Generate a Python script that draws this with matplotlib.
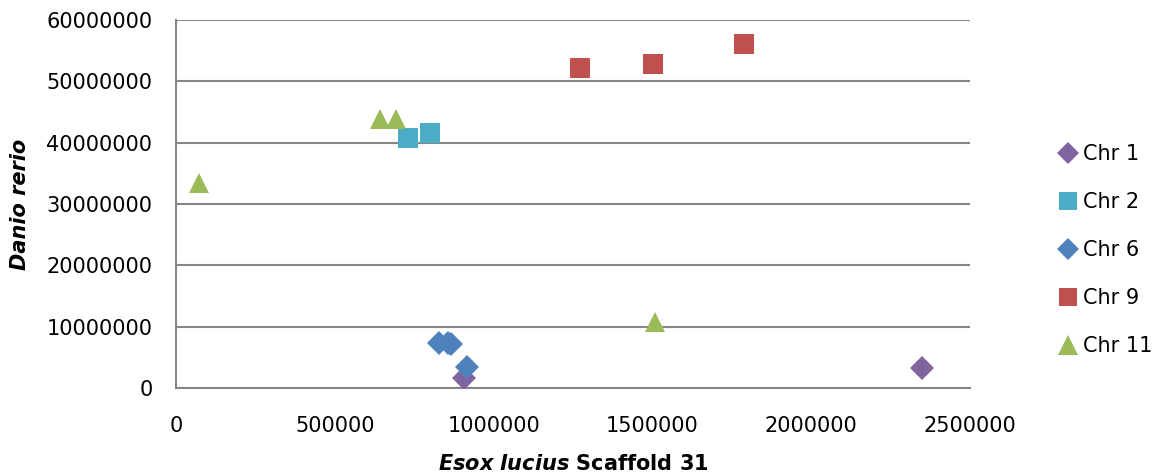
import matplotlib
matplotlib.use("Agg")
import matplotlib.pyplot as plt
from matplotlib.lines import Line2D

plt.rcParams['font.family'] = ['DejaVu Sans']
plt.rcParams['mathtext.fontset'] = 'custom'
plt.rcParams['mathtext.it'] = 'DejaVu Sans:italic:bold'
plt.rcParams['mathtext.rm'] = 'DejaVu Sans:bold'

series_names = ["Chr 1", "Chr 2", "Chr 6", "Chr 9", "Chr 11"]
chr1_x = [908000, 2348000]
chr1_y = [1700000, 3300000]
chr2_x = [730000, 800000]
chr2_y = [40700000, 41600000]
chr6_x = [829000, 856000, 866000, 915000]
chr6_y = [7300000, 7300000, 7100000, 3500000]
chr9_x = [1271000, 1501000, 1787000]
chr9_y = [52200000, 52900000, 56100000]
chr11_x = [72000, 642000, 692000, 1507000]
chr11_y = [33400000, 43900000, 43900000, 10800000]

xticks = [0, 500000, 1000000, 1500000, 2000000, 2500000]
yticks = [0, 10000000, 20000000, 30000000, 40000000, 50000000, 60000000]

colors = {"Chr 1": "#8064A2", "Chr 2": "#4BACC6", "Chr 6": "#4F81BD",
          "Chr 9": "#C0504D", "Chr 11": "#9BBB59"}
markers = {"Chr 1": "D", "Chr 2": "s", "Chr 6": "D", "Chr 9": "s", "Chr 11": "^"}
sizes = {"D": 12, "s": 15, "^": 15}

data = {"Chr 1": (chr1_x, chr1_y), "Chr 2": (chr2_x, chr2_y),
        "Chr 6": (chr6_x, chr6_y), "Chr 9": (chr9_x, chr9_y),
        "Chr 11": (chr11_x, chr11_y)}

fig = plt.figure(figsize=(11.61, 4.76), dpi=100)
ax = fig.add_axes([176/1161, 88/476, (970-176)/1161, (388-20)/476])

for name in series_names:
    xs, ys = data[name]
    m = markers[name]
    ax.plot(xs, ys, linestyle='none', marker=m, markersize=sizes[m],
            color=colors[name], markeredgewidth=0, zorder=3)

ax.set_xlim(0, 2500000)
ax.set_ylim(0, 60000000)
ax.set_xticks(xticks)
ax.set_yticks(yticks)
ax.set_xticklabels([str(v) for v in xticks], fontsize=15)
ax.set_yticklabels([str(v) for v in yticks], fontsize=15)
ax.tick_params(axis='both', length=0)
ax.tick_params(axis='y', pad=17)
ax.tick_params(axis='x', pad=20)
ax.yaxis.grid(True, color='#868686', linewidth=1.5)
ax.set_axisbelow(True)
for s in ['top', 'right']:
    ax.spines[s].set_visible(False)
for s in ['left', 'bottom']:
    ax.spines[s].set_color('#868686')
    ax.spines[s].set_linewidth(1.5)

ax.set_ylabel("Danio rerio", fontsize=15, fontweight='bold', style='italic', labelpad=12)
ax.set_xlabel(r"$Esox\ lucius$ Scaffold 31", fontsize=15, fontweight='bold', labelpad=13)

handles = []
for name in series_names:
    m = markers[name]
    handles.append(Line2D([], [], linestyle='none', marker=m,
                          markersize={"D": 11, "s": 13, "^": 14}[m],
                          color=colors[name], markeredgewidth=0))
leg = fig.legend(handles, series_names, loc='center left',
                 bbox_to_anchor=(1037/1161, 1 - 250/476), frameon=False,
                 fontsize=15, handletextpad=0.1, labelspacing=1.34,
                 handlelength=1.2)

fig.savefig("out.png", dpi=100)
